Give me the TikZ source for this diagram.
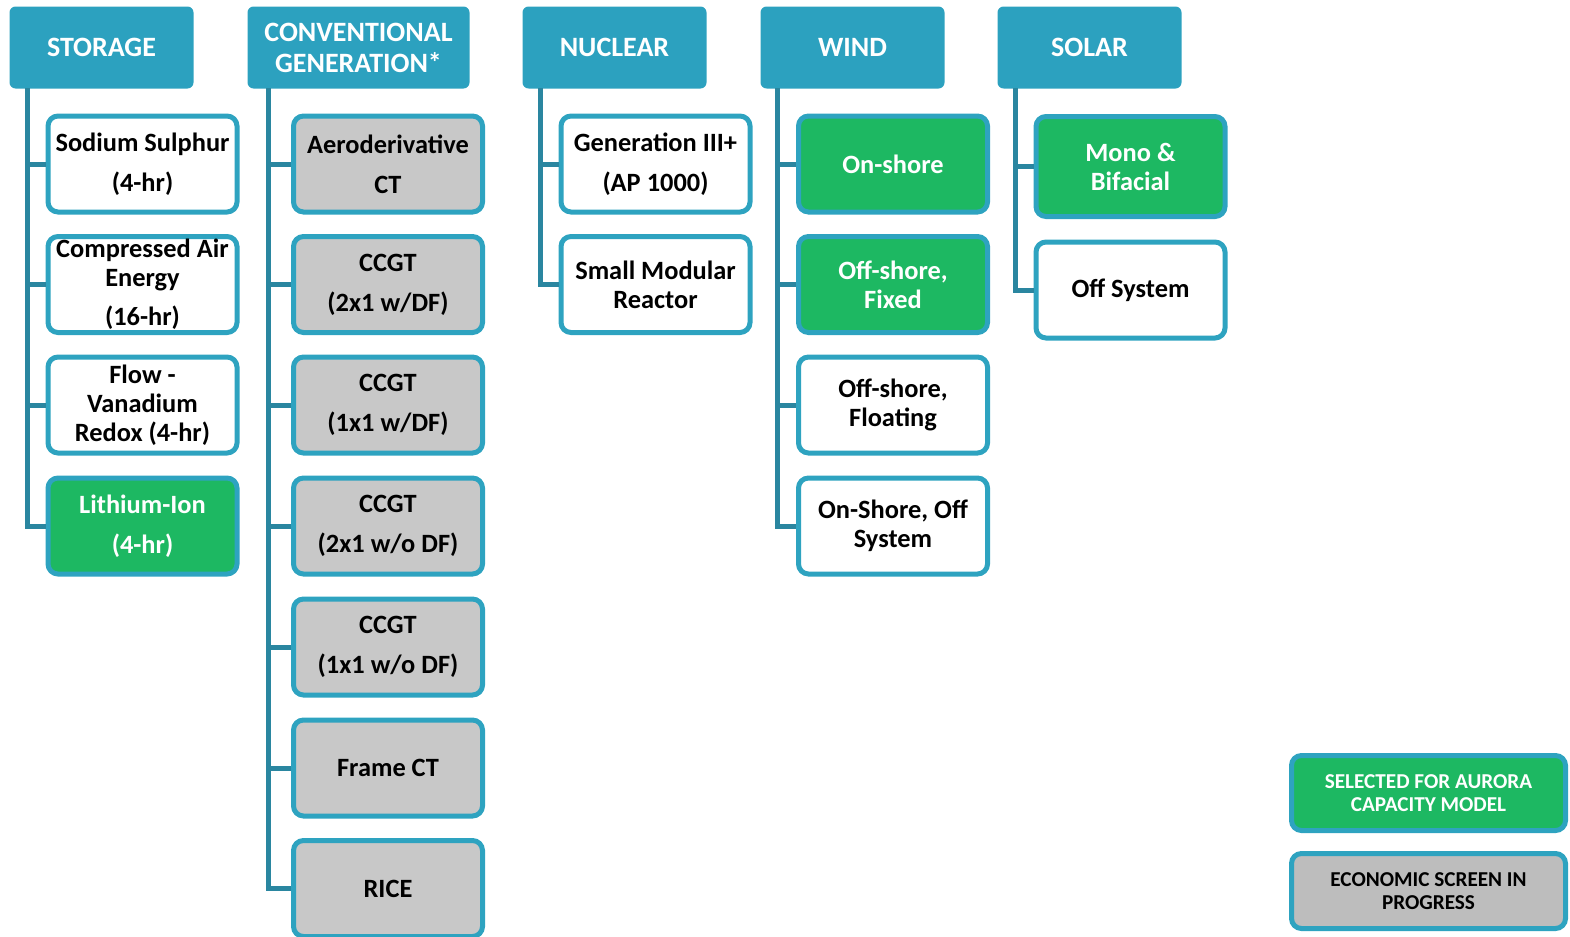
\documentclass[tikz,border=0pt]{standalone}
\usepackage{fontspec}
\setmainfont{Carlito}
\definecolor{hdr}{HTML}{2CA1BF}
\definecolor{edge}{HTML}{2EA3C0}
\definecolor{trunkc}{HTML}{2A86A0}
\definecolor{grn}{HTML}{1DB862}
\definecolor{gry}{HTML}{C8C8C8}
\definecolor{lgry}{HTML}{BDBDBD}
\begin{document}
\begin{tikzpicture}[x=0.5pt,y=-0.5pt,
  header/.style={fill=hdr, rounded corners=3pt, text=white, font=\fontsize{14}{15.5}\selectfont\bfseries, align=center, minimum height=41pt, minimum width=92pt, inner sep=0pt},
  item/.style={draw=edge, line width=2.5pt, rounded corners=5pt, minimum width=94.5pt, minimum height=48pt, align=center, inner sep=0pt, font=\fontsize{13.2}{14.5}\selectfont\bfseries},
  wide/.style={font=\fontsize{13.2}{20}\selectfont\bfseries},
  white/.style={item, fill=white},
  green/.style={item, fill=grn, text=white},
  grey/.style={item, fill=gry},
  legend/.style={draw=edge, line width=2.5pt, rounded corners=5pt, minimum width=137pt, minimum height=37.5pt, align=center, inner sep=0pt, font=\fontsize{10.6}{11.6}\selectfont\bfseries},
  trunk/.style={draw=trunkc, line width=2.5pt}]
\useasboundingbox (0,0) rectangle (1570,937);

% headers
\node[header] (hs) at (101.5,47.5) {STORAGE};
\node[header, minimum width=111pt] (hc) at (358.5,47.5) {CONVENTIONAL\\GENERATION*};
\node[header] (hn) at (614.5,47.5) {NUCLEAR};
\node[header] (hw) at (852.5,47.5) {WIND};
\node[header] (hso) at (1089.5,47.5) {SOLAR};

% trunk tops
\coordinate (ts) at (27,88);
\coordinate (tc) at (268,88);
\coordinate (tn) at (540,88);
\coordinate (tw) at (777,88);
\coordinate (tso) at (1015,88);

% storage
\node[white, wide] (s1) at (142.5,164) {Sodium Sulphur\\(4-hr)};
\node[white] (s2) at (142.5,284.5) {Compressed Air\\Energy\\[5pt](16-hr)};
\node[white] (s3) at (142.5,405) {Flow -\\Vanadium\\Redox (4-hr)};
\node[green, wide] (s4) at (142.5,526) {Lithium-Ion\\(4-hr)};

% conventional
\node[grey, wide] (c1) at (388,164) {Aeroderivative\\CT};
\node[grey, wide] (c2) at (388,284.5) {CCGT\\(2x1 w/DF)};
\node[grey, wide] (c3) at (388,405) {CCGT\\(1x1 w/DF)};
\node[grey, wide] (c4) at (388,526) {CCGT\\(2x1 w/o DF)};
\node[grey, wide] (c5) at (388,647) {CCGT\\(1x1 w/o DF)};
\node[grey] (c6) at (388,768) {Frame CT};
\node[grey] (c7) at (388,888.5) {RICE};

% nuclear
\node[white, wide] (n1) at (655.5,164) {Generation III+\\(AP 1000)};
\node[white] (n2) at (655.5,284.5) {Small Modular\\Reactor};

% wind
\node[green] (w1) at (893,164) {On-shore};
\node[green] (w2) at (893,284.5) {Off-shore,\\Fixed};
\node[white] (w3) at (893,405) {Off-shore,\\Floating};
\node[white] (w4) at (893,526) {On-Shore, Off\\System};

% solar
\node[green, minimum height=50pt] (so1) at (1130.5,166.5) {Mono \&\\Bifacial};
\node[white] (so2) at (1130.5,290) {Off System};

% legend
\node[legend, fill=grn, text=white] (l1) at (1428.5,793) {SELECTED FOR AURORA\\CAPACITY MODEL};
\node[legend, fill=lgry] (l2) at (1428.5,891) {ECONOMIC SCREEN IN\\PROGRESS};

% connectors
\draw[trunk] (ts) |- (s4.west);
\foreach \n in {s1,s2,s3} \draw[trunk] (\n.west) -- (\n.west -| ts);
\draw[trunk] (tc) |- (c7.west);
\foreach \n in {c1,c2,c3,c4,c5,c6} \draw[trunk] (\n.west) -- (\n.west -| tc);
\draw[trunk] (tn) |- (n2.west);
\draw[trunk] (n1.west) -- (n1.west -| tn);
\draw[trunk] (tw) |- (w4.west);
\foreach \n in {w1,w2,w3} \draw[trunk] (\n.west) -- (\n.west -| tw);
\draw[trunk] (tso) |- (so2.west);
\draw[trunk] (so1.west) -- (so1.west -| tso);
\end{tikzpicture}
\end{document}
